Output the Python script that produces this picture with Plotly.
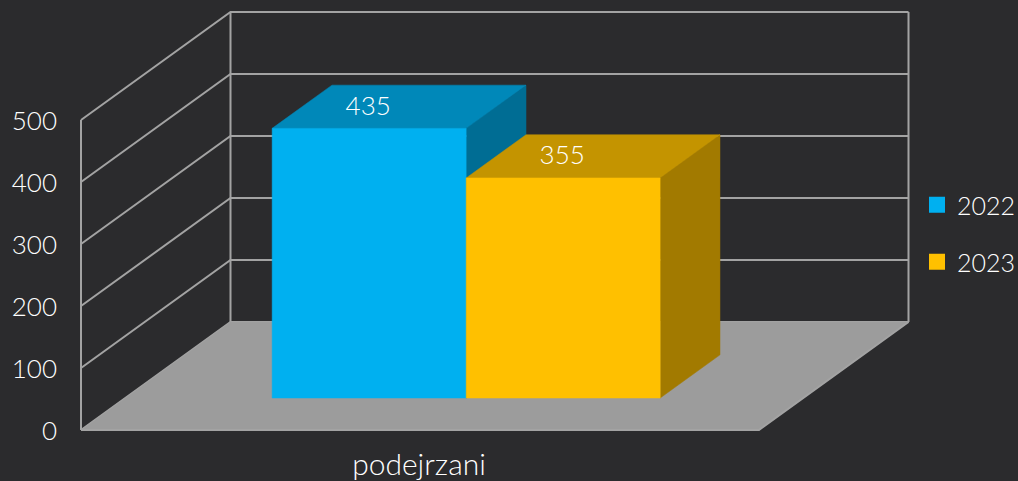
import plotly.graph_objects as go

categories = ["podejrzani"]
years = ["2022", "2023"]
values_2022 = [435]
values_2023 = [355]
y_ticks = [0, 100, 200, 300, 400, 500]

BG = "#2b2b2d"
GRID = "#a3a3a3"
FLOOR = "#9c9c9c"
TEXT = "#ffffff"
FONT = "Lato"
WEIGHT = 300
FRONT = ["#00b0f0", "#ffc000"]
TOP = ["#0088b9", "#c49400"]
SIDE = ["#006d94", "#a27a00"]

# oblique projection: band position u (0..1), value v, depth d (0..1) -> page pixels
X0, WIDTH = 81.0, 678.0
Y0, PX_PER_UNIT = 430.0, 0.62
DX, DY = 149.5, 108.0
BAR_D0, BAR_D1 = 0.296, 0.696
BAR_U = [0.2167, 0.5029, 0.7890]


def proj(u, v, d):
    return X0 + WIDTH * u + DX * d, Y0 - PX_PER_UNIT * v - DY * d


def poly(points, color, line_color=None):
    xy = [proj(*p) for p in points + points[:1]]
    return go.Scatter(
        x=[a for a, _ in xy], y=[b for _, b in xy], mode="lines", fill="toself",
        fillcolor=color, line=dict(color=line_color or color, width=0.5),
        hoverinfo="skip", showlegend=False,
    )


def seg(points, width=2):
    xy = [proj(*p) for p in points]
    return go.Scatter(
        x=[a for a, _ in xy], y=[b for _, b in xy], mode="lines",
        line=dict(color=GRID, width=width), hoverinfo="skip", showlegend=False,
    )


def txt(size):
    return dict(family=FONT, size=size, color=TEXT, weight=WEIGHT)


fig = go.Figure()
top = y_ticks[-1]

# walls
for t in y_ticks:
    fig.add_trace(seg([(0, t, 0), (0, t, 1), (1, t, 1)]))
fig.add_trace(seg([(0, 0, 0), (0, top, 0)]))
fig.add_trace(seg([(0, 0, 1), (0, top, 1)]))
fig.add_trace(seg([(1, 0, 1), (1, top, 1)]))

# floor
fig.add_trace(poly([(0, 0, 0), (1, 0, 0), (1, 0, 1), (0, 0, 1)], FLOOR, GRID))
fig.add_trace(seg([(0, 0, 0), (1, 0, 0), (1, 0, 1)]))

# bars
series = [values_2022[0], values_2023[0]]
for i, val in enumerate(series):
    u0, u1 = BAR_U[i], BAR_U[i + 1]
    fig.add_trace(poly([(u1, 0, BAR_D0), (u1, 0, BAR_D1), (u1, val, BAR_D1), (u1, val, BAR_D0)], SIDE[i]))
    fig.add_trace(poly([(u0, val, BAR_D0), (u1, val, BAR_D0), (u1, val, BAR_D1), (u0, val, BAR_D1)], TOP[i]))
    fig.add_trace(poly([(u0, 0, BAR_D0), (u1, 0, BAR_D0), (u1, val, BAR_D0), (u0, val, BAR_D0)], FRONT[i]))

# data labels
for i, val in enumerate(series):
    u = (BAR_U[i] + BAR_U[i + 1]) / 2
    x, y = proj(u, val, BAR_D0)
    fig.add_trace(go.Scatter(
        x=[x - 1], y=[y - 20], mode="text", text=[str(val)], textposition="middle center",
        textfont=txt(26), hoverinfo="skip", showlegend=False,
    ))

# value axis labels
tx, ty = zip(*[proj(0, t, 0) for t in y_ticks])
fig.add_trace(go.Scatter(
    x=[a - 24 for a in tx], y=[b + 3 for b in ty], mode="text", text=[str(t) for t in y_ticks],
    textposition="middle left", textfont=txt(26), hoverinfo="skip", showlegend=False,
))

# category axis label
cx, cy = proj(0.5, 0, 0)
fig.add_trace(go.Scatter(
    x=[cx - 1], y=[cy + 37], mode="text", text=categories, textposition="middle center",
    textfont=txt(30), hoverinfo="skip", showlegend=False,
))

# legend entries
for i, name in enumerate(years):
    fig.add_trace(go.Scatter(
        x=[None], y=[None], mode="markers", name=name,
        marker=dict(symbol="square", size=16, color=FRONT[i]),
        legend="legend" if i == 0 else "legend2",
    ))

legend_common = dict(
    xanchor="left", yanchor="middle", bgcolor="rgba(0,0,0,0)",
    font=txt(25), x=917 / 1018,
)
fig.update_layout(
    width=1018, height=481, autosize=False,
    margin=dict(l=0, r=0, t=0, b=0, autoexpand=False),
    paper_bgcolor=BG, plot_bgcolor=BG,
    xaxis=dict(range=[0, 1018], visible=False, domain=[0, 1], fixedrange=True),
    yaxis=dict(range=[481, 0], visible=False, domain=[0, 1], fixedrange=True),
    legend=dict(y=1 - 205 / 481, **legend_common),
    legend2=dict(y=1 - 262 / 481, **legend_common),
)

fig.write_html("out.html", post_script="document.body.style.margin='0';document.body.style.background='" + BG + "';", config={"displayModeBar": False})
